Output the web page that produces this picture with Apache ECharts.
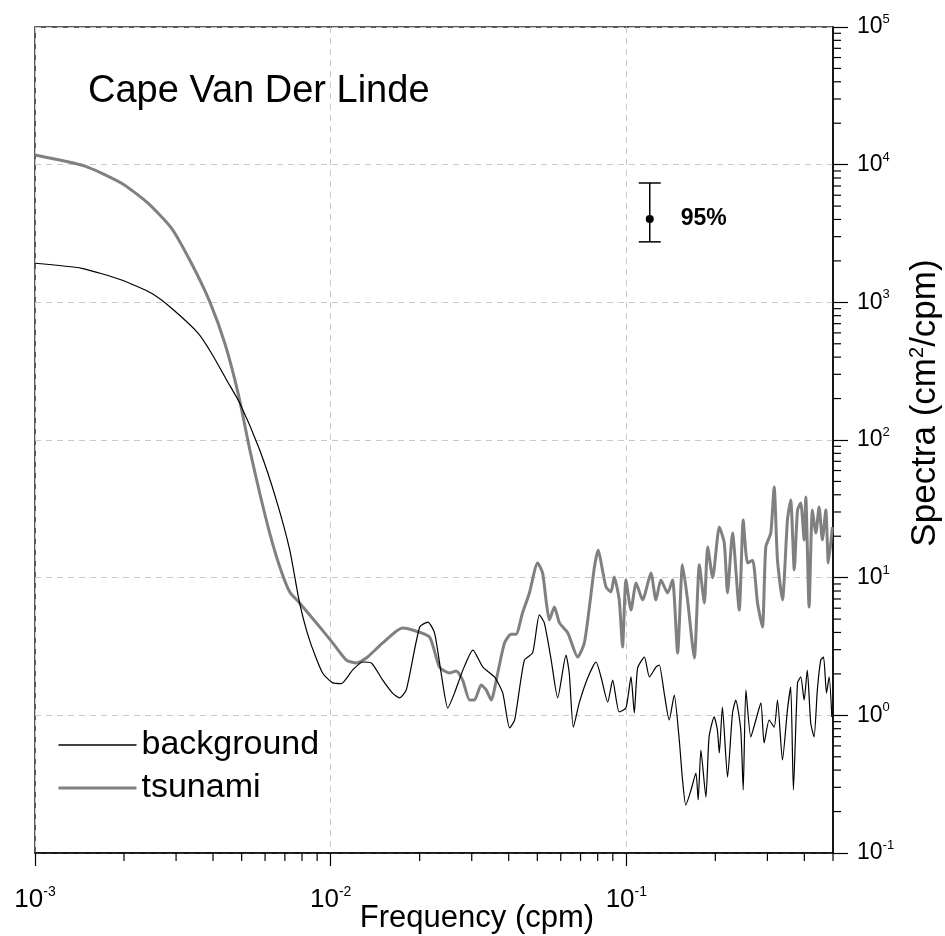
<!DOCTYPE html>
<html><head><meta charset="utf-8">
<script src="https://cdn.jsdelivr.net/npm/echarts@6/dist/echarts.min.js"></script>
<style>html,body{margin:0;padding:0;background:#fff}#c{width:945px;height:936px}</style>
</head><body><div id="c"></div>
<script>
const FONT = "'Liberation Sans', Arial, Helvetica, sans-serif";

// ---- axis ticks ----
const xMajorTicks = [0.001, 0.01, 0.1];
const xMinorTicks = [0.002, 0.003, 0.004, 0.005, 0.006, 0.007, 0.008, 0.009,
  0.02, 0.03, 0.04, 0.05, 0.06, 0.07, 0.08, 0.09, 0.2, 0.3, 0.4, 0.5];
const yMajorTicks = [0.1, 1, 10, 100, 1000, 10000, 100000];
const yMinorTicks = [0.2, 0.3, 0.4, 0.5, 0.6, 0.7, 0.8, 0.9,
  2, 3, 4, 5, 6, 7, 8, 9, 20, 30, 40, 50, 60, 70, 80, 90,
  200, 300, 400, 500, 600, 700, 800, 900, 2000, 3000, 4000, 5000, 6000, 7000, 8000, 9000,
  20000, 30000, 40000, 50000, 60000, 70000, 80000, 90000];

// ---- tsunami spectrum ----
const freqTsunami = [0.001, 0.001476, 0.001963, 0.002415, 0.002897, 0.003381, 0.003899, 0.004385, 0.004864, 0.00533,
  0.005754, 0.00622, 0.00673, 0.00727, 0.00785, 0.00895, 0.01016, 0.0113, 0.01222, 0.01321,
  0.015, 0.0175, 0.01892, 0.02159, 0.02333, 0.02523, 0.02659, 0.02795, 0.02951, 0.03063,
  0.03228, 0.03357, 0.03491, 0.03673, 0.03873, 0.04074, 0.04236, 0.04454, 0.0470, 0.0501,
  0.0521, 0.0535, 0.0549, 0.0571, 0.0594, 0.0634, 0.0685, 0.0721, 0.0750, 0.0780,
  0.0804, 0.0830, 0.0854, 0.0887, 0.0910, 0.0946, 0.0971, 0.0997, 0.1037, 0.1079,
  0.1135, 0.1211, 0.1259, 0.1309, 0.1379, 0.1433, 0.1491, 0.1549, 0.1611, 0.1698,
  0.1766, 0.1836, 0.1884, 0.1959, 0.2063, 0.2144, 0.2199, 0.2286, 0.2409, 0.2485,
  0.2570, 0.2673, 0.2778, 0.2886, 0.2962, 0.3080, 0.3162, 0.3245, 0.3373, 0.3506,
  0.3597, 0.3698, 0.3793, 0.3890, 0.3993, 0.4046, 0.4150, 0.4258, 0.4375, 0.4487,
  0.4603, 0.4728, 0.4824, 0.4977];
const valTsunami = [11750, 9770, 7330, 5240, 3450, 1923, 1012, 504, 218, 84.5,
  41.2, 21.1, 11.97, 7.87, 6.55, 4.69, 3.36, 2.52, 2.40, 2.61,
  3.36, 4.31, 4.17, 3.71, 2.24, 2.03, 2.10, 1.80, 1.29, 1.29,
  1.66, 1.53, 1.29, 2.03, 3.36, 3.88, 3.88, 5.53, 7.74, 12.8,
  10.8, 6.89, 4.93, 6.12, 4.69, 3.96, 2.65, 3.36, 6.12, 11.97,
  15.9, 11.4, 8.55, 7.87, 10.1, 6.89, 3.14, 9.62, 5.82, 9.14,
  6.89, 10.8, 6.89, 9.62, 7.74, 9.62, 2.84, 12.4, 6.89, 2.61,
  12.4, 6.55, 16.7, 10.0, 23.3, 17.9, 7.74, 21.1, 5.82, 26.2,
  12.8, 13.4, 6.55, 4.38, 16.7, 21.1, 45.6, 13.4, 6.89, 26.2,
  36.6, 11.4, 31.0, 34.8, 18.8, 38.5, 6.12, 31.0, 21.1, 32.6,
  18.8, 31.0, 12.8, 23.3];

// ---- background spectrum ----
const freqBackground = [0.001, 0.001439, 0.001963, 0.002477, 0.002897, 0.003565, 0.003954, 0.004446, 0.00493, 0.005754,
  0.00655, 0.00727, 0.00785, 0.00849, 0.00939, 0.01016, 0.01087, 0.01186, 0.01282, 0.01373,
  0.0150, 0.01619, 0.0171, 0.01802, 0.0200, 0.02133, 0.02246, 0.02364, 0.0249, 0.02623,
  0.0280, 0.03027, 0.03272, 0.03581, 0.0382, 0.0403, 0.0419, 0.0452, 0.0482, 0.0508,
  0.0528, 0.0557, 0.0586, 0.0625, 0.0641, 0.0662, 0.0693, 0.0740, 0.0790, 0.0821,
  0.0865, 0.0899, 0.0946, 0.0997, 0.1037, 0.1064, 0.1092, 0.1151, 0.1197, 0.1259,
  0.1292, 0.1343, 0.1396, 0.1452, 0.1510, 0.1549, 0.1589, 0.1655, 0.1719, 0.1750,
  0.1787, 0.1858, 0.1905, 0.1982, 0.2032, 0.2063, 0.2113, 0.2199, 0.2286, 0.2345,
  0.2438, 0.2485, 0.2537, 0.2636, 0.2742, 0.2851, 0.2924, 0.3041, 0.3162, 0.3245,
  0.3373, 0.3506, 0.3597, 0.3673, 0.3793, 0.3890, 0.3993, 0.4093, 0.4204, 0.4315,
  0.4426, 0.4545, 0.4645, 0.4753, 0.4853, 0.4955];
const valBackground = [1923, 1767, 1452, 1164, 906, 596, 427, 273, 185, 84.5,
  36.6, 15.9, 6.55, 3.50, 2.03, 1.72, 1.70, 2.13, 2.44, 2.40,
  1.80, 1.45, 1.34, 1.53, 4.38, 4.76, 3.96, 2.03, 1.13, 1.45,
  2.13, 2.98, 2.24, 1.90, 1.45, 0.81, 0.925, 2.52, 2.84, 5.36,
  4.69, 2.52, 1.34, 2.74, 2.03, 0.82, 1.23, 1.87, 2.44, 1.90,
  1.25, 1.80, 1.06, 1.13, 1.90, 1.04, 2.21, 2.65, 1.90, 2.24,
  2.32, 1.45, 0.925, 1.40, 0.662, 0.339, 0.223, 0.287, 0.381, 0.243,
  0.560, 0.255, 0.697, 0.973, 0.783, 0.533, 1.15, 0.356, 1.04, 1.29,
  0.783, 0.287, 1.53, 0.697, 0.925, 1.23, 0.630, 0.925, 0.82, 1.29,
  0.474, 1.09, 1.61, 0.287, 1.72, 1.90, 1.29, 2.13, 0.879, 0.697,
  1.53, 2.52, 2.65, 1.45, 1.90, 0.973];

// ---- 95% confidence bar ----
const ciFreq = [0.12];
const ciLow = [2750];
const ciHigh = [7360];
const ciMid = [4035];
const ciLabel = '95%';

const X_MIN = 0.001, X_MAX = 0.5, Y_MIN = 0.1, Y_MAX = 100000;

function powLabel(v) {
  const e = Math.round(Math.log10(v));
  return '{b|10}{s|' + e + '}';
}
const xTickRich = {
  b: { fontSize: 26, lineHeight: 30, fontFamily: FONT, color: '#000' },
  s: { fontSize: 14, lineHeight: 15, verticalAlign: 'top', fontFamily: FONT, color: '#000' }
};
const yTickRich = {
  b: { fontSize: 23, lineHeight: 28, fontFamily: FONT, color: '#000' },
  s: { fontSize: 13, lineHeight: 14, verticalAlign: 'top', fontFamily: FONT, color: '#000' }
};

const chart = echarts.init(document.getElementById('c'), null, { renderer: 'canvas' });

const option = {
  animation: false,
  backgroundColor: '#fff',
  grid: { left: 35, right: 112, top: 27, bottom: 83, show: true, borderColor: '#222', borderWidth: 1.5, backgroundColor: 'transparent' },
  legend: {
    data: [
      { name: 'background', lineStyle: { width: 1.5, color: '#000' } },
      { name: 'tsunami', lineStyle: { width: 3, color: '#808080' } }
    ],
    orient: 'vertical', left: 52, top: 721,
    itemWidth: 78, itemHeight: 14, itemGap: 5, itemTextGap: 12,
    itemStyle: { opacity: 0 },
    textStyle: { fontSize: 34, fontFamily: FONT, color: '#000', lineHeight: 38 }
  },
  xAxis: {
    type: 'log', logBase: 10, min: X_MIN, max: X_MAX,
    axisLine: { show: true, lineStyle: { color: '#000', width: 1.5 } },
    axisTick: { show: true, length: 13, customValues: xMajorTicks, lineStyle: { color: '#000', width: 1.2 } },
    axisLabel: { show: true, margin: 32, customValues: xMajorTicks, formatter: powLabel, rich: xTickRich },
    splitLine: { show: true, lineStyle: { color: '#c8c8c8', type: [6, 5], width: 1 } },
    minorTick: { show: false }, minorSplitLine: { show: false }
  },
  yAxis: {
    type: 'log', logBase: 10, min: Y_MIN, max: Y_MAX, position: 'right',
    axisLine: { show: true, lineStyle: { color: '#000', width: 1.5 } },
    axisTick: { show: true, length: 15, customValues: yMajorTicks, lineStyle: { color: '#000', width: 1.2 } },
    axisLabel: { show: true, margin: 24, customValues: yMajorTicks, formatter: powLabel, rich: yTickRich },
    splitLine: { show: true, lineStyle: { color: '#c8c8c8', type: [6, 5], width: 1 } },
    minorTick: { show: false }, minorSplitLine: { show: false }
  },
  graphic: [
    { type: 'text', left: 88, top: 73, style: { text: 'Cape Van Der Linde', fontSize: 38, fontFamily: FONT, fill: '#000' } },
    { type: 'text', x: 477, y: 918, style: { text: 'Frequency (cpm)', fontSize: 31, fontFamily: FONT, fill: '#000', align: 'center', verticalAlign: 'middle' } },
    { type: 'text', x: 925, y: 403, rotation: Math.PI / 2,
      style: { text: 'Spectra (cm{s|2}/cpm)', fontSize: 35, fontFamily: FONT, fill: '#000', align: 'center', verticalAlign: 'middle',
        rich: { s: { fontSize: 20, lineHeight: 20, verticalAlign: 'top', fontFamily: FONT, fill: '#000' } } } }
  ],
  series: [
    {
      name: 'tsunami', type: 'line', symbol: 'none', smooth: 0.2,
      data: freqTsunami.map((f, i) => [f, valTsunami[i]]),
      lineStyle: { color: '#808080', width: 3 }, itemStyle: { color: '#808080' }, z: 3
    },
    {
      name: 'background', type: 'line', symbol: 'none', smooth: 0.2,
      data: freqBackground.map((f, i) => [f, valBackground[i]]),
      lineStyle: { color: '#000', width: 1.2 }, itemStyle: { color: '#000' }, z: 4
    },
    {
      name: 'xminor', type: 'custom', silent: true, clip: false, z: 10,
      data: xMinorTicks.map(v => [v]),
      renderItem: (params, api) => {
        const p = api.coord([api.value(0), Y_MIN]);
        return { type: 'line', shape: { x1: p[0], y1: p[1], x2: p[0], y2: p[1] + 8 }, style: { stroke: '#000', lineWidth: 1.2 } };
      }
    },
    {
      name: 'yminor', type: 'custom', silent: true, clip: false, z: 10,
      data: yMinorTicks.map(v => [X_MAX, v]),
      renderItem: (params, api) => {
        const p = api.coord([X_MAX, api.value(1)]);
        return { type: 'line', shape: { x1: p[0], y1: p[1], x2: p[0] + 8, y2: p[1] }, style: { stroke: '#000', lineWidth: 1.2 } };
      }
    },
    {
      name: 'ci', type: 'custom', silent: true, clip: false, z: 10,
      data: ciFreq.map((f, i) => [f, ciLow[i], ciHigh[i], ciMid[i]]),
      renderItem: (params, api) => {
        const lo = api.coord([api.value(0), api.value(1)]);
        const hi = api.coord([api.value(0), api.value(2)]);
        const mid = api.coord([api.value(0), api.value(3)]);
        const st = { stroke: '#000', lineWidth: 1.5 };
        return { type: 'group', children: [
          { type: 'line', shape: { x1: lo[0], y1: lo[1], x2: hi[0], y2: hi[1] }, style: st },
          { type: 'line', shape: { x1: lo[0] - 11, y1: lo[1], x2: lo[0] + 11, y2: lo[1] }, style: st },
          { type: 'line', shape: { x1: hi[0] - 11, y1: hi[1], x2: hi[0] + 11, y2: hi[1] }, style: st },
          { type: 'circle', shape: { cx: mid[0], cy: mid[1], r: 4 }, style: { fill: '#000' } },
          { type: 'text', x: mid[0] + 31, y: mid[1], style: { text: ciLabel, fontSize: 23, fontWeight: 'bold', fontFamily: FONT, fill: '#000', verticalAlign: 'middle', align: 'left' } }
        ] };
      }
    }
  ]
};
chart.setOption(option);
</script>
</body></html>
